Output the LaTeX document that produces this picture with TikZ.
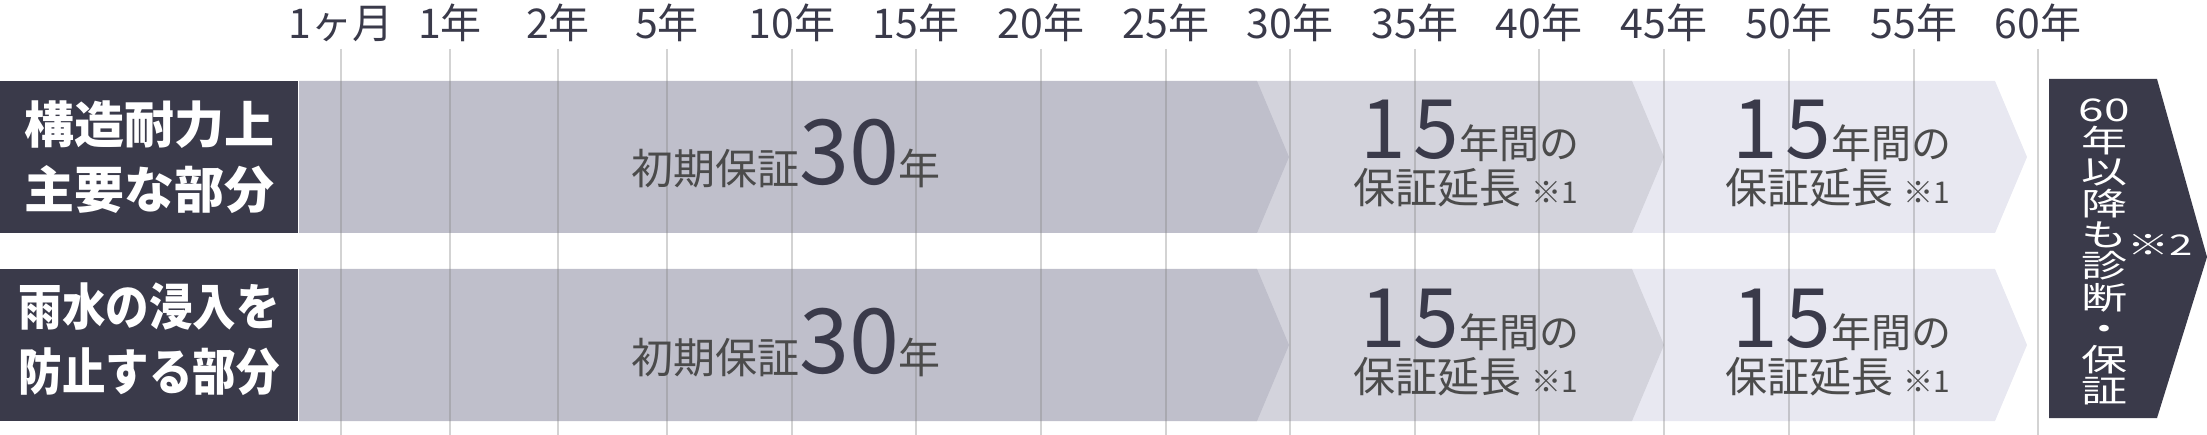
\documentclass[tikz,border=0pt]{standalone}
\usepackage{graphicx}
\usepackage{fontspec}
\setmainfont{Noto Sans CJK JP}
\definecolor{navy}{HTML}{3A3A4A}
\definecolor{barone}{HTML}{BFBFCB}
\definecolor{bartwo}{HTML}{D3D3DC}
\definecolor{barthree}{HTML}{E8E8F1}
\definecolor{ink}{HTML}{4B4B4B}
\newcommand{\fsz}[1]{\fontsize{#1}{#1}\selectfont}

\begin{document}
\begin{tikzpicture}[x=1pt, y=-1pt,
    yearlbl/.style = {anchor=base, text=navy, inner sep=0pt, font=\fsz{41}},
    gridline/.style = {draw=gray, opacity=0.35, line width=1.5pt},
    partbox/.style = {fill=navy, text=white, minimum width=298pt, minimum height=152pt,
      inner sep=0pt, align=center, font=\bfseries\fontsize{50}{65}\selectfont},
    note/.style = {anchor=base, text=ink, inner sep=0pt, font=\fsz{42}}
  ]
  \useasboundingbox (0,0) rectangle (2207,435);

  % bars of both rows
  \foreach \t in {81, 269} {
    \fill[barthree] (1600,\t) -- (1995,\t) -- (2027,\t+76) -- (1995,\t+152) -- (1600,\t+152) -- cycle;
    \fill[bartwo] (1200,\t) -- (1632,\t) -- (1664,\t+76) -- (1632,\t+152) -- (1200,\t+152) -- cycle;
    \fill[barone] (299,\t) -- (1257,\t) -- (1289,\t+76) -- (1257,\t+152) -- (299,\t+152) -- cycle;
  }

  % year axis
  \foreach \x/\yr [count=\i] in {341/1ヶ月, 450/1年, 558/2年, 667/5年, 792/10年, 916/15年,
      1041/20年, 1166/25年, 1290/30年, 1415/35年, 1539/40年, 1664/45年, 1789/50年,
      1914/55年, 2038/60年} {
    \node[yearlbl] (yr\i) at (\x,39) {\yr};
    \draw[gridline] (\x,49) -- (\x,435);
  }

  \node[partbox] (part1) at (149,157) {構造耐力上\\主要な部分};
  \node[partbox] (part2) at (149,345)
    {\scalebox{0.87}[1]{\begin{tabular}{@{}c@{}}雨水の浸入を\\防止する部分\end{tabular}}};

  \foreach \t/\r in {81/1, 269/2} {
    \node[note] (init\r) at (786,\t+104) {初期保証{\color{navy}\fsz{90}30}年};
    \node[note] (extA\r) at (1470,\t+78) {{\color{navy}\fsz{82}1\kern8pt 5}{\fsz{40}年間の}};
    \node[note] (extB\r) at (1466,\t+123) {保証延長 {\fsz{30}※1}};
    \node[note] (extC\r) at (1842,\t+78) {{\color{navy}\fsz{82}1\kern8pt 5}{\fsz{40}年間の}};
    \node[note] (extD\r) at (1838,\t+123) {保証延長 {\fsz{30}※1}};
  }

  % after 60 years
  \fill[navy] (2049,79) -- (2157,79) -- (2207,257) -- (2157,418) -- (2049,418) -- cycle;
  \node[text=white, inner sep=0pt] (after60) at (2104,252)
    {\scalebox{1}[0.68]{\parbox{60pt}{\centering\fsz{46}\lineskiplimit=-100pt
      60\\年\\以\\降\\も\rlap{\raisebox{-14pt}{\fsz{42}※2}}\\診\\断\\・\\保\\証}}};
\end{tikzpicture}
\end{document}
